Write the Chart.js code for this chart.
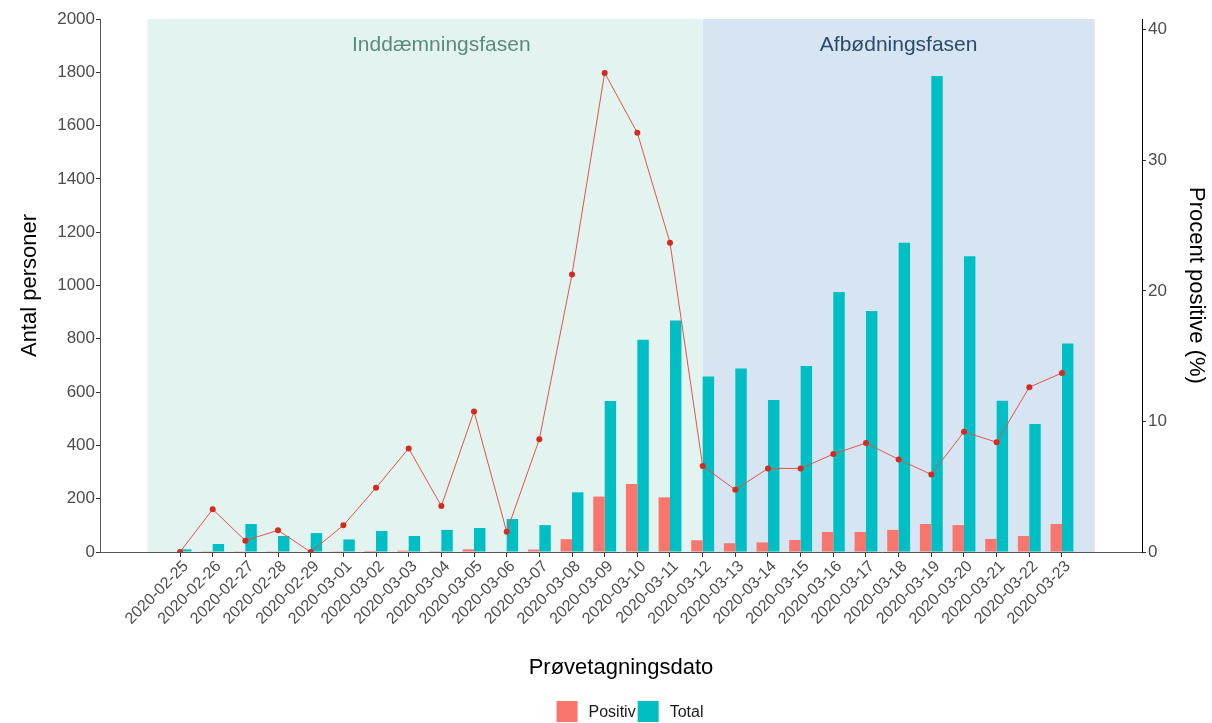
<!DOCTYPE html>
<html lang="da">
<head>
<meta charset="utf-8">
<title>Prøvetagningsdato</title>
<script src="https://cdn.jsdelivr.net/npm/chart.js@4.4.1/dist/chart.umd.min.js"></script>
<style>
    html, body { margin: 0; padding: 0; background: #ffffff; }
    #wrap { width: 1212px; height: 723px; position: relative; }
</style>
</head>
<body>
<div id="wrap"><canvas id="chartTest"></canvas></div>
<script>
// Data
const dates = [
    '2020-02-25', '2020-02-26', '2020-02-27', '2020-02-28', '2020-02-29',
    '2020-03-01', '2020-03-02', '2020-03-03', '2020-03-04', '2020-03-05',
    '2020-03-06', '2020-03-07', '2020-03-08', '2020-03-09', '2020-03-10',
    '2020-03-11', '2020-03-12', '2020-03-13', '2020-03-14', '2020-03-15',
    '2020-03-16', '2020-03-17', '2020-03-18', '2020-03-19', '2020-03-20',
    '2020-03-21', '2020-03-22', '2020-03-23'
];
const positiv = [0, 1, 1, 1, 0, 1, 4, 5, 3, 10, 2, 9, 48, 208, 255, 205, 44, 33, 36, 45, 75, 75, 83, 105, 101, 49, 60, 105];
const total = [10, 30, 105, 60, 71, 47, 79, 60, 83, 90, 124, 101, 224, 567, 796, 869, 659, 689, 570, 698, 976, 904, 1160, 1786, 1110, 568, 480, 782];
const procent = [0, 3.27, 0.87, 1.66, 0, 2.04, 4.92, 7.93, 3.52, 10.76, 1.55, 8.64, 21.26, 36.69, 32.1, 23.69, 6.58, 4.77, 6.4, 6.4, 7.5, 8.34, 7.09, 5.94, 9.2, 8.41, 12.62, 13.71];

// Tick labels
const leftTicks = [0, 200, 400, 600, 800, 1000, 1200, 1400, 1600, 1800, 2000];
const rightTicks = [0, 10, 20, 30, 40];

// Phases (shaded periods)
const phaseNames = ['Inddæmningsfasen', 'Afbødningsfasen'];
const phaseStart = ['2020-02-24', '2020-03-12'];
const phaseEnd = ['2020-03-12', '2020-03-24'];
const phaseLabelDates = ['2020-03-04', '2020-03-18'];
const phaseLabelY = 1900;

const leftMax = 2000;
const rightMax = 2000 / 49;

document.addEventListener('DOMContentLoaded', function () {
    const fontFamily = "'Liberation Sans', Arial, Helvetica, sans-serif";
    Chart.defaults.font.family = fontFamily;

    // days since first date
    function dayIndex(d) {
        return Math.round((Date.parse(d) - Date.parse(dates[0])) / 86400000);
    }

    const lo = dayIndex(phaseStart[0]);
    const hi = dayIndex(phaseEnd[phaseEnd.length - 1]);
    const pad = (hi - lo) * 0.05;

    const phaseFill = ['#e3f3ef', '#d6e5f1'];
    const phaseText = ['#5b8a7a', '#2c4a6b'];

    // Shaded background + phase labels
    const phasePlugin = {
        id: 'phases',
        beforeDatasetsDraw(chart) {
            const { ctx, chartArea, scales } = chart;
            ctx.save();
            phaseNames.forEach(function (name, i) {
                const x0 = scales.x.getPixelForValue(dayIndex(phaseStart[i]));
                const x1 = scales.x.getPixelForValue(dayIndex(phaseEnd[i]));
                ctx.fillStyle = phaseFill[i];
                ctx.fillRect(x0, chartArea.top, x1 - x0, chartArea.bottom - chartArea.top);
            });
            ctx.font = '21px ' + fontFamily;
            ctx.textAlign = 'center';
            ctx.textBaseline = 'middle';
            phaseNames.forEach(function (name, i) {
                ctx.fillStyle = phaseText[i];
                ctx.fillText(name,
                    scales.x.getPixelForValue(dayIndex(phaseLabelDates[i])),
                    scales.y.getPixelForValue(phaseLabelY));
            });
            ctx.restore();
        }
    };

    // Legend at the bottom, ggplot style (square key, label right of it)
    const legendPlugin = {
        id: 'ggLegend',
        afterDraw(chart) {
            const { ctx } = chart;
            const items = chart.data.datasets.filter(ds => ds.type !== 'line');
            const box = 21, gapText = 11, gapItem = 2;
            ctx.save();
            ctx.font = '16px ' + fontFamily;
            ctx.textBaseline = 'middle';
            ctx.textAlign = 'left';
            let width = 0;
            items.forEach(function (ds, i) {
                width += box + gapText + ctx.measureText(ds.label).width + (i < items.length - 1 ? gapItem : 0);
            });
            let x = 630 - width / 2;
            const y = 701;
            items.forEach(function (ds) {
                ctx.fillStyle = ds.backgroundColor;
                ctx.fillRect(x, y, box, box);
                ctx.fillStyle = '#1a1a1a';
                ctx.fillText(ds.label, x + box + gapText, y + box / 2 + 1);
                x += box + gapText + ctx.measureText(ds.label).width + gapItem;
            });
            ctx.restore();
        }
    };

    const tickFont = { size: 17 };
    const titleFont = { size: 22 };

    const ctx = document.getElementById('chartTest').getContext('2d');
    new Chart(ctx, {
        type: 'bar',
        data: {
            datasets: [
                {
                    label: 'Positiv',
                    data: positiv.map((v, i) => ({ x: i, y: v })),
                    backgroundColor: '#F8766D',
                    yAxisID: 'y',
                    order: 1
                },
                {
                    label: 'Total',
                    data: total.map((v, i) => ({ x: i, y: v })),
                    backgroundColor: '#00BFC4',
                    yAxisID: 'y',
                    order: 1
                },
                {
                    type: 'line',
                    label: 'Procent',
                    data: procent.map((v, i) => ({ x: i, y: v })),
                    borderColor: '#e5544c',
                    borderWidth: 1,
                    pointRadius: 3,
                    pointBackgroundColor: '#d42a20',
                    pointBorderWidth: 0,
                    tension: 0,
                    yAxisID: 'y1',
                    order: 0
                }
            ]
        },
        options: {
            responsive: true,
            maintainAspectRatio: false,
            animation: false,
            categoryPercentage: 0.7,
            barPercentage: 1,
            layout: { padding: { top: 19, left: 0, right: 0, bottom: 0 } },
            plugins: {
                tooltip: { enabled: false },
                legend: { display: false }
            },
            scales: {
                x: {
                    type: 'linear',
                    offset: false,
                    min: lo - pad,
                    max: hi + pad,
                    afterBuildTicks: function (scale) {
                        scale.ticks = dates.map((d, i) => ({ value: i }));
                    },
                    afterFit: function (scale) {
                        scale.height = 171;
                        scale.paddingLeft = 0;
                        scale.paddingRight = 0;
                    },
                    grid: { display: true, offset: false, drawOnChartArea: false, tickLength: 5, color: '#333333' },
                    border: { display: true, color: '#555555', width: 1 },
                    ticks: {
                        autoSkip: false,
                        minRotation: 45,
                        maxRotation: 45,
                        padding: 0,
                        labelOffset: 6,
                        color: '#4d4d4d',
                        font: { size: 16 },
                        callback: v => dates[v]
                    },
                    title: {
                        display: true,
                        text: 'Prøvetagningsdato',
                        color: '#000000',
                        font: titleFont,
                        padding: { top: 0, bottom: 42 }
                    }
                },
                y: {
                    position: 'left',
                    min: 0,
                    max: leftMax,
                    afterBuildTicks: function (scale) {
                        scale.ticks = leftTicks.map(v => ({ value: v }));
                    },
                    afterFit: function (scale) { scale.width = 100; },
                    grid: { display: true, drawOnChartArea: false, tickLength: 4, color: '#333333' },
                    border: { display: true, color: '#555555', width: 1 },
                    ticks: { padding: 1, color: '#4d4d4d', font: tickFont, callback: v => String(v) },
                    title: {
                        display: true,
                        text: 'Antal personer',
                        color: '#000000',
                        font: titleFont,
                        padding: { top: 17, bottom: 0 }
                    }
                },
                y1: {
                    position: 'right',
                    min: 0,
                    max: rightMax,
                    afterBuildTicks: function (scale) {
                        scale.ticks = rightTicks.map(v => ({ value: v }));
                    },
                    afterFit: function (scale) { scale.width = 70; },
                    grid: { display: true, drawOnChartArea: false, tickLength: 4, color: '#333333' },
                    border: { display: true, color: '#000000', width: 1 },
                    ticks: { padding: 2, color: '#4d4d4d', font: tickFont, callback: v => String(v) },
                    title: {
                        display: true,
                        text: 'Procent positive (%)',
                        color: '#000000',
                        font: titleFont,
                        padding: { top: 3, bottom: 0 }
                    }
                }
            }
        },
        plugins: [phasePlugin, legendPlugin]
    });
});
</script>
</body>
</html>
